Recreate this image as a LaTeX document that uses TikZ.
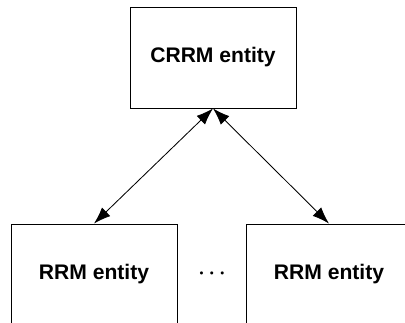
\documentclass[tikz,border=0pt]{standalone}
\usepackage{fontspec}
\setmainfont{Liberation Sans}
\usetikzlibrary{arrows.meta}
\tikzset{
  entity/.style={draw, line width=0.6pt, minimum width=4.15cm, minimum height=2.525cm, font=\fontsize{15}{18}\selectfont\bfseries},
  link/.style={{Latex[length=12pt, width=8.5pt]}-{Latex[length=12pt, width=8.5pt]}, line width=0.6pt},
}
\begin{document}
\begin{tikzpicture}[x=0.025cm, y=0.025cm]
    \useasboundingbox (0,0) rectangle (405,322);
    \clip (0,0) rectangle (405,322);
    \node[entity] (crrm) at (213,264.5) {CRRM entity};
    \node[entity] (rrmleft) at (94,47.5) {RRM entity};
    \node[entity] (rrmright) at (329,47.5) {RRM entity};
    \node[font=\fontsize{15}{18}\selectfont\boldmath] (dots) at (212,48) {$\cdots$};
    \draw[link] (crrm.south) -- (rrmleft.north);
    \draw[link] (crrm.south) -- (rrmright.north);
  \end{tikzpicture}
\end{document}
